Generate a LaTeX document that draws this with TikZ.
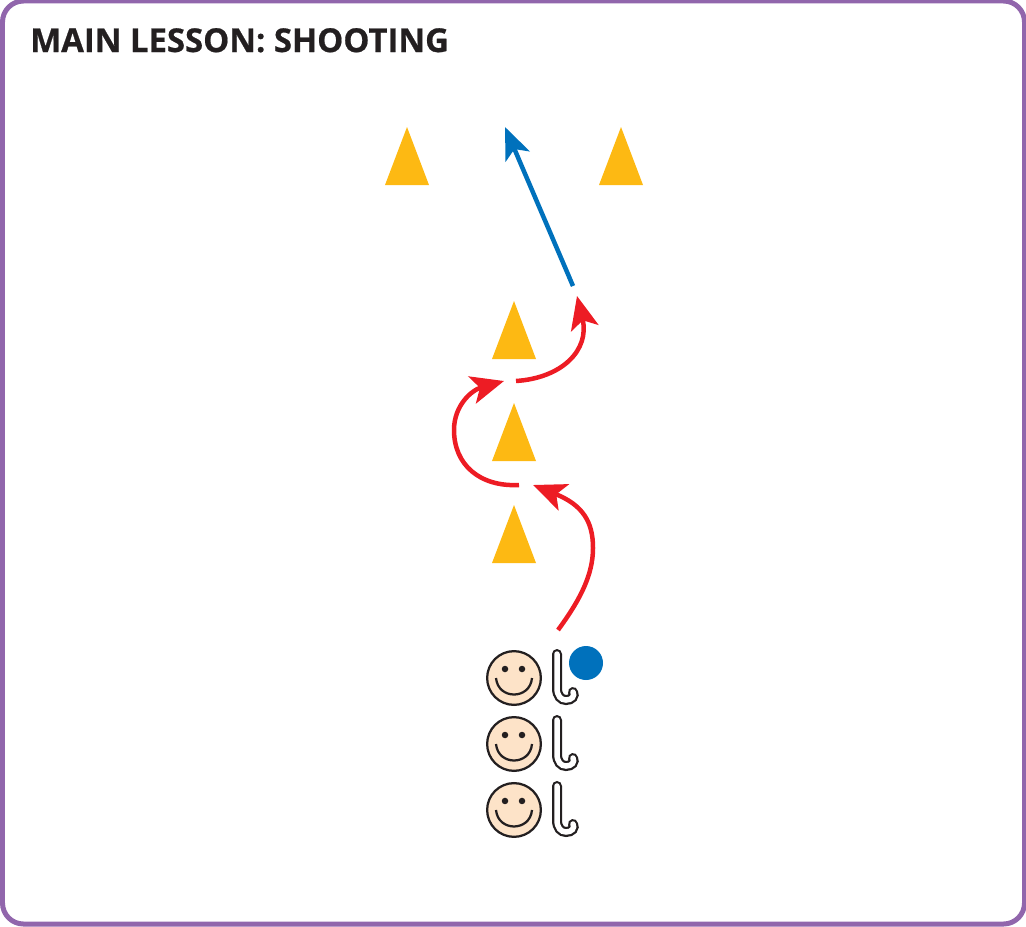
\documentclass[tikz,border=0pt]{standalone}
\usepackage{fontspec}
\setmainfont{Open Sans}
\newfontfamily\titlefont[BoldFeatures={FakeBold=.6}]{Open Sans}
\usetikzlibrary{arrows.meta}
\definecolor{lessonpurple}{HTML}{9166AC}
\definecolor{conegold}{HTML}{FDB913}
\definecolor{runred}{HTML}{ED1C24}
\definecolor{shotblue}{HTML}{0071BC}
\definecolor{skintone}{HTML}{FDE3C8}
\definecolor{inkblack}{HTML}{231F20}
\newcommand{\boundcone}[2]% x of apex, y of apex
{(#1,#2) -- ++(22,58) -- ++(-44,0) -- cycle
}
\newcommand{\player}[1]% name of face
{\draw (514,678) node[face] (#1) {}; % head
\fill[inkblack] (505,669) circle (.065cm) (522,669) circle (.065cm); % eyes
\draw[inkblack,line width=.045cm] (496,678) .. controls (498,700) and (530,700) .. (532,678); % smile
\draw[stick] (557,654) -- (557,688) .. controls (557,696) and (561,700) .. (566,700)
  .. controls (572,700) and (575,696) .. (573,692); % stick
}

\begin{document}
\begin{tikzpicture}[x=.02cm,y=-.02cm,line width=.09cm]
\tikzstyle{cone}=[fill=conegold,draw=none]
\tikzstyle{face}=[draw=inkblack,shape=circle,fill=skintone,line width=.045cm,minimum size=1.075cm,inner sep=0pt]
\tikzstyle{stick}=[draw=inkblack,line width=.045cm,double=white,double distance=.11cm,line cap=round]
\tikzstyle{ball}=[shape=circle,fill=shotblue,minimum size=.68cm,inner sep=0pt]
\tikzstyle{run}=[draw=runred,-{Stealth[length=.66cm,width=.56cm,inset=.16cm]}]
\tikzstyle{shot}=[draw=shotblue,-{Stealth[length=.64cm,width=.52cm,inset=.16cm]}]
\useasboundingbox (0,0) rectangle (1026,926);

% frame and title
\draw[lessonpurple,line width=.1cm,rounded corners=.42cm] (2.5,1) rectangle (1024.5,924);
\draw (28,52) node[anchor=base west,inner sep=0pt,text=inkblack,font=\fontsize{18.7}{22}\titlefont\bfseries] (title) {MAIN LESSON: SHOOTING};

% cones
\fill[cone] \boundcone{407}{127}; % goal left
\fill[cone] \boundcone{621}{127}; % goal right
\fill[cone] \boundcone{514}{301};
\fill[cone] \boundcone{514}{403};
\fill[cone] \boundcone{514}{505};

% three players in line
\player{p1}
\begin{scope}[yshift=-1.32cm]
\player{p2}
\end{scope}
\begin{scope}[yshift=-2.64cm]
\player{p3}
\end{scope}
\draw (586,663) node[ball] (puck) {}; % ball

% path of the first player
\coordinate (r1s) at (558,630);
\coordinate (r1e) at (533,485);
\coordinate (r2s) at (519,485);
\coordinate (r2e) at (504,381);
\coordinate (r3s) at (516,381);
\coordinate (r3e) at (577,296);
\coordinate (shots) at (573,286);
\coordinate (shote) at (505,127);
\draw[run] (r1s) .. controls (580,600) and (593,575) .. (593,548)
  .. controls (593,522) and (583,505) .. (r1e);
\draw[run] (r2s) .. controls (480,487) and (454,465) .. (454,430)
  .. controls (454,405) and (472,390) .. (r2e);
\draw[run] (r3s) .. controls (562,378) and (590,350) .. (r3e);
\draw[shot] (shots) -- (shote);
\end{tikzpicture}
\end{document}
